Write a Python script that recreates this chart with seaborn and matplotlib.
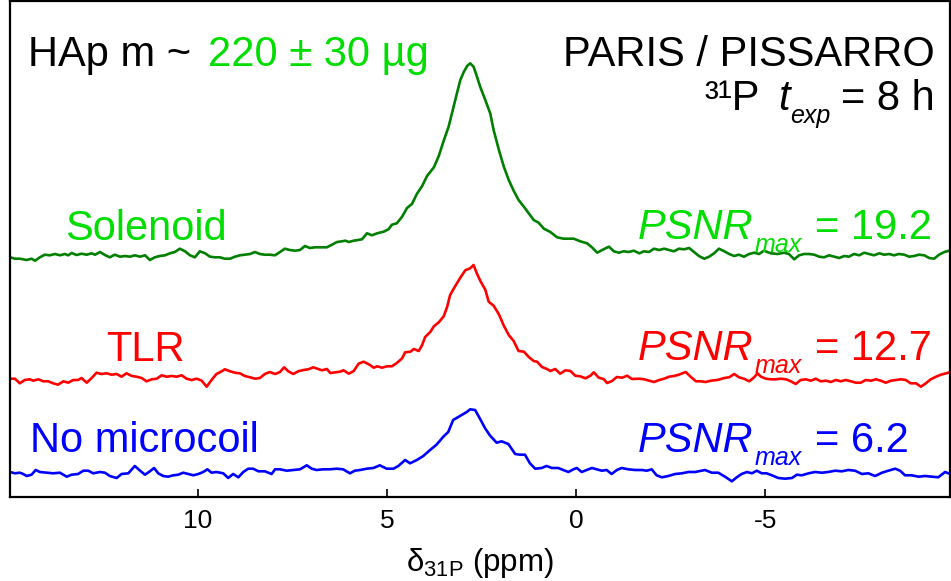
import numpy as np
import pandas as pd
import matplotlib
matplotlib.use("Agg")
import matplotlib.pyplot as plt
import seaborn as sns

# ---------------- data ----------------
shift_solenoid = [14.97, 14.84, 14.71, 14.53, 14.40, 14.31, 14.18, 14.05, 13.92, 13.78, 13.65, 13.52, 13.43, 13.34,
                  13.21, 13.08, 12.94, 12.81, 12.72, 12.59, 12.46, 12.33, 12.20, 12.06, 11.93, 11.80, 11.67, 11.53,
                  11.40, 11.27, 11.14, 11.01, 10.87, 10.74, 10.61, 10.48, 10.34, 10.21, 10.08, 9.95, 9.81, 9.68, 9.55,
                  9.42, 9.29, 9.15, 9.02, 8.89, 8.76, 8.62, 8.49, 8.36, 8.23, 8.10, 7.96, 7.83, 7.70, 7.57, 7.43, 7.30,
                  7.17, 7.04, 6.90, 6.72, 6.59, 6.46, 6.32, 6.19, 6.10, 6.01, 5.88, 5.66, 5.53, 5.40, 5.26, 5.09, 4.96,
                  4.87, 4.74, 4.60, 4.47, 4.34, 4.21, 4.07, 3.94, 3.76, 3.63, 3.50, 3.37, 3.24, 3.15, 3.06, 2.97, 2.88,
                  2.80, 2.71, 2.62, 2.53, 2.40, 2.27, 2.18, 2.04, 1.91, 1.78, 1.65, 1.52, 1.38, 1.25, 1.12, 0.99, 0.85,
                  0.68, 0.50, 0.33, 0.06, -0.11, -0.29, -0.42, -0.56, -0.69, -0.87, -1.00, -1.13, -1.26, -1.39, -1.53,
                  -1.67, -1.80, -1.93, -2.06, -2.20, -2.33, -2.46, -2.59, -2.72, -2.86, -2.99, -3.12, -3.25, -3.39,
                  -3.52, -3.65, -3.78, -3.92, -4.05, -4.18, -4.31, -4.44, -4.58, -4.71, -4.84, -4.97, -5.15, -5.33,
                  -5.50, -5.63, -5.77, -5.90, -6.03, -6.16, -6.30, -6.43, -6.56, -6.69, -6.83, -6.96, -7.09, -7.22,
                  -7.35, -7.49, -7.62, -7.75, -7.88, -8.02, -8.15, -8.28, -8.41, -8.54, -8.68, -8.81, -8.94, -9.07,
                  -9.21, -9.34, -9.47, -9.60, -9.74, -9.87]
signal_solenoid = [239.7, 238.3, 238.3, 237.0, 238.3, 236.3, 239.7, 242.3, 241.7, 243.0, 241.7, 243.0, 241.7, 244.0,
                   242.0, 243.3, 242.3, 243.7, 242.3, 245.0, 242.0, 239.7, 242.3, 240.3, 241.0, 240.3, 241.7, 240.3,
                   241.7, 237.0, 239.7, 241.0, 241.7, 243.7, 245.0, 248.3, 245.7, 241.7, 239.7, 245.7, 243.7, 240.3,
                   239.7, 239.7, 238.3, 238.3, 240.3, 241.7, 242.3, 243.0, 245.0, 243.0, 242.3, 242.3, 241.7, 245.0,
                   248.3, 247.0, 246.3, 247.0, 251.0, 249.0, 249.7, 249.7, 249.7, 252.3, 255.0, 255.7, 256.3, 255.0,
                   256.3, 257.7, 263.7, 261.7, 263.7, 265.3, 267.7, 272.3, 273.7, 280.3, 289.0, 293.0, 303.0, 311.0,
                   321.0, 329.7, 341.0, 356.3, 370.3, 390.3, 403.7, 417.0, 425.0, 431.0, 433.7, 430.3, 420.3, 409.7,
                   397.0, 383.7, 367.0, 347.0, 330.3, 317.0, 306.3, 297.0, 290.3, 283.7, 277.0, 274.3, 268.3, 265.0,
                   259.7, 258.3, 258.3, 255.7, 253.7, 249.7, 244.3, 247.0, 250.3, 245.7, 244.3, 245.7, 245.0, 246.3,
                   243.7, 245.7, 245.0, 248.3, 247.0, 248.3, 247.0, 245.7, 248.3, 247.7, 249.0, 245.0, 241.0, 238.3,
                   240.3, 243.7, 248.3, 245.7, 243.0, 241.0, 242.3, 240.3, 243.0, 244.3, 243.0, 246.3, 243.7, 243.0,
                   244.3, 243.0, 237.7, 241.7, 243.0, 243.0, 242.3, 240.3, 239.7, 241.7, 240.3, 239.0, 241.0, 240.3,
                   243.0, 241.7, 244.3, 243.0, 241.7, 243.7, 242.3, 243.0, 241.7, 243.0, 242.3, 240.3, 241.0, 242.3,
                   241.7, 239.0, 238.3, 242.3, 245.0, 246.3]

shift_tlr = [14.97, 14.84, 14.71, 14.58, 14.44, 14.36, 14.22, 14.09, 13.96, 13.83, 13.70, 13.56, 13.43, 13.30, 13.17,
             13.08, 12.94, 12.81, 12.68, 12.55, 12.42, 12.28, 12.15, 12.02, 11.89, 11.75, 11.62, 11.49, 11.36, 11.22,
             11.09, 10.96, 10.83, 10.70, 10.56, 10.43, 10.30, 10.17, 10.03, 9.90, 9.77, 9.64, 9.51, 9.37, 9.29, 9.15,
             9.02, 8.89, 8.76, 8.62, 8.49, 8.36, 8.23, 8.10, 7.96, 7.83, 7.72, 7.61, 7.48, 7.35, 7.21, 7.08, 6.95,
             6.72, 6.59, 6.50, 6.37, 6.24, 6.15, 6.01, 5.88, 5.75, 5.62, 5.48, 5.35, 5.26, 5.13, 5.00, 4.87, 4.74,
             4.60, 4.52, 4.38, 4.29, 4.16, 4.07, 3.99, 3.85, 3.76, 3.63, 3.50, 3.41, 3.33, 3.19, 3.06, 2.93, 2.80,
             2.71, 2.62, 2.53, 2.40, 2.31, 2.18, 2.04, 1.91, 1.78, 1.65, 1.52, 1.38, 1.25, 1.12, 1.03, 0.90, 0.77,
             0.68, 0.55, 0.42, 0.28, 0.15, 0.02, -0.11, -0.25, -0.38, -0.47, -0.60, -0.73, -0.82, -0.95, -1.08,
             -1.22, -1.35, -1.48, -1.67, -1.80, -1.93, -2.06, -2.20, -2.33, -2.46, -2.59, -2.72, -2.90, -3.03,
             -3.17, -3.30, -3.43, -3.56, -3.74, -3.92, -4.05, -4.18, -4.31, -4.44, -4.58, -4.71, -4.80, -4.89,
             -5.02, -5.15, -5.28, -5.42, -5.55, -5.68, -5.81, -5.94, -6.08, -6.21, -6.34, -6.47, -6.61, -6.74,
             -6.87, -7.00, -7.13, -7.27, -7.40, -7.53, -7.66, -7.80, -7.93, -8.06, -8.19, -8.33, -8.46, -8.59,
             -8.72, -8.85, -8.99, -9.12, -9.25, -9.38, -9.52, -9.65, -9.78, -9.91]
signal_tlr = [118.3, 118.3, 113.7, 117.0, 117.7, 116.3, 117.7, 115.7, 115.7, 113.7, 112.3, 115.7, 114.3, 117.0, 117.0,
              119.0, 114.3, 119.0, 124.3, 123.0, 123.7, 122.3, 123.0, 120.3, 123.7, 121.0, 120.3, 119.0, 115.7,
              117.7, 118.3, 121.7, 120.3, 121.0, 120.3, 121.7, 118.3, 117.0, 118.3, 116.3, 110.3, 117.0, 123.0,
              125.7, 127.7, 125.7, 124.3, 123.7, 121.0, 119.7, 118.3, 119.0, 123.0, 125.0, 123.0, 125.0, 129.7,
              125.7, 123.0, 125.7, 127.0, 127.7, 129.7, 126.7, 128.0, 124.0, 124.7, 125.3, 126.7, 123.3, 126.0,
              133.3, 135.3, 132.7, 129.3, 130.7, 129.3, 130.7, 130.7, 134.0, 138.7, 144.7, 145.3, 148.0, 146.0,
              152.0, 160.0, 165.3, 170.7, 174.7, 180.7, 190.0, 202.0, 211.3, 219.3, 226.7, 228.7, 232.0, 223.3,
              216.0, 207.3, 195.3, 191.3, 182.7, 171.3, 162.0, 156.0, 146.0, 145.3, 140.0, 136.0, 135.3, 130.0,
              128.0, 126.0, 128.0, 123.3, 126.7, 126.0, 121.3, 120.7, 118.7, 121.3, 124.7, 119.3, 118.0, 114.0,
              116.0, 120.0, 119.3, 121.3, 118.0, 118.3, 117.7, 116.3, 115.0, 117.0, 118.3, 120.3, 121.0, 122.3,
              125.0, 120.3, 115.7, 115.7, 115.0, 116.3, 117.0, 119.0, 119.7, 123.0, 119.7, 118.3, 115.7, 119.7,
              123.7, 120.3, 118.3, 117.7, 117.7, 118.3, 117.7, 115.7, 113.0, 117.0, 117.7, 116.3, 118.3, 115.7,
              116.3, 115.0, 117.0, 115.7, 117.0, 115.7, 114.3, 114.3, 117.0, 116.3, 117.7, 116.3, 114.3, 116.3,
              117.0, 117.7, 117.0, 113.7, 113.7, 110.3, 113.7, 117.7, 120.3, 122.3, 123.7, 125.0]

shift_none = [14.97, 14.84, 14.71, 14.62, 14.53, 14.40, 14.29, 14.18, 14.00, 13.83, 13.65, 13.47, 13.34, 13.17, 13.03,
              12.90, 12.77, 12.59, 12.46, 12.33, 12.15, 12.02, 11.84, 11.67, 11.53, 11.40, 11.27, 11.16, 11.05,
              10.92, 10.79, 10.65, 10.52, 10.39, 10.26, 10.12, 9.99, 9.86, 9.75, 9.64, 9.51, 9.33, 9.20, 9.07, 8.93,
              8.80, 8.67, 8.54, 8.40, 8.23, 8.05, 7.96, 7.83, 7.65, 7.48, 7.30, 7.12, 6.99, 6.86, 6.69, 6.51, 6.33,
              6.16, 5.98, 5.85, 5.71, 5.54, 5.36, 5.19, 5.01, 4.83, 4.70, 4.52, 4.39, 4.21, 4.04, 3.86, 3.69, 3.51,
              3.38, 3.25, 3.07, 2.89, 2.80, 2.67, 2.54, 2.41, 2.28, 2.10, 1.97, 1.79, 1.61, 1.48, 1.35, 1.22, 1.08,
              0.91, 0.78, 0.64, 0.47, 0.34, 0.20, 0.07, -0.02, -0.15, -0.28, -0.42, -0.55, -0.68, -0.81, -0.94,
              -1.08, -1.21, -1.38, -1.56, -1.74, -1.87, -2.00, -2.13, -2.27, -2.44, -2.62, -2.80, -2.97, -3.15,
              -3.41, -3.59, -3.76, -3.94, -4.12, -4.25, -4.38, -4.52, -4.65, -4.78, -4.91, -5.04, -5.18, -5.35,
              -5.53, -5.71, -5.84, -5.97, -6.15, -6.32, -6.50, -6.67, -6.85, -7.03, -7.20, -7.38, -7.56, -7.73,
              -7.91, -8.09, -8.26, -8.44, -8.57, -8.70, -8.88, -9.06, -9.23, -9.41, -9.58, -9.76, -9.89]
signal_none = [25.0, 23.7, 24.3, 23.0, 21.0, 22.3, 27.0, 25.0, 24.3, 23.7, 24.3, 20.3, 22.3, 23.0, 26.3, 26.3, 23.7,
               25.0, 24.3, 21.0, 19.0, 23.0, 23.7, 31.0, 26.3, 22.3, 25.7, 29.0, 23.7, 21.0, 20.3, 21.7, 22.3, 24.3,
               23.0, 21.7, 23.0, 25.0, 27.7, 24.3, 25.0, 23.7, 19.0, 23.0, 19.7, 25.0, 28.3, 28.3, 25.7, 25.7, 23.0,
               27.7, 27.7, 26.3, 27.0, 27.7, 31.7, 28.3, 27.0, 27.7, 27.7, 28.3, 27.7, 23.7, 26.3, 27.0, 28.3, 29.0,
               31.7, 28.3, 28.3, 31.0, 37.0, 33.7, 37.0, 41.0, 47.0, 52.3, 60.3, 65.0, 77.0, 81.0, 85.0, 87.7, 87.0,
               78.3, 69.0, 61.7, 54.3, 55.7, 53.0, 43.0, 42.3, 42.3, 33.7, 28.3, 29.0, 31.0, 29.0, 29.0, 27.0, 25.0,
               27.7, 29.0, 25.0, 27.0, 29.0, 27.7, 26.3, 27.0, 23.0, 27.0, 29.0, 27.7, 27.0, 27.0, 26.3, 27.7, 21.7,
               19.7, 21.0, 23.0, 23.7, 25.0, 25.0, 27.0, 24.3, 24.3, 20.3, 15.7, 19.7, 23.0, 25.0, 23.7, 26.3, 23.7,
               23.7, 21.7, 19.0, 18.3, 19.0, 22.3, 21.7, 23.7, 25.0, 24.3, 25.0, 26.3, 25.7, 27.0, 26.3, 23.0, 23.7,
               21.0, 24.3, 26.3, 28.3, 26.3, 21.7, 21.7, 20.3, 21.0, 20.3, 19.7, 25.0, 23.0]

coil_names = ["Solenoid", "TLR", "No microcoil"]
psnr_values = ["19.2", "12.7", "6.2"]
x_ticks = [10, 5, 0, -5]
line_colors = {"Solenoid": "#007f00", "TLR": "#ff0000", "No microcoil": "#0000ff"}
text_colors = {"Solenoid": "#00dd00", "TLR": "#ff0000", "No microcoil": "#0000ff"}

frames = []
for name, xs, ys in zip(coil_names, [shift_solenoid, shift_tlr, shift_none],
                        [signal_solenoid, signal_tlr, signal_none]):
    frames.append(pd.DataFrame({"shift": xs, "signal": ys, "coil": name}))
df = pd.concat(frames, ignore_index=True)

# ---------------- style ----------------
sns.set_theme(style="white")
plt.rcParams["font.family"] = ["Liberation Sans", "DejaVu Sans"]
plt.rcParams["mathtext.fontset"] = "custom"
plt.rcParams["mathtext.rm"] = "Liberation Sans"
plt.rcParams["mathtext.it"] = "Liberation Sans:italic"
plt.rcParams["mathtext.bf"] = "Liberation Sans:bold"
plt.rcParams["axes.unicode_minus"] = False

W, H = 951, 581
fig = plt.figure(figsize=(W / 100, H / 100), dpi=100)
ax = fig.add_axes([10 / W, (H - 497) / H, (950 - 10) / W, (497 - 1) / H])

sns.lineplot(data=df, x="shift", y="signal", hue="coil", palette=line_colors,
             estimator=None, sort=False, linewidth=1.9, legend=False, ax=ax)

ax.set_xlim(14.97, -9.89)
ax.set_ylim(0, 496)
ax.set_xticks(x_ticks)
ax.set_xticklabels([str(t) for t in x_ticks])
ax.set_yticks([])
ax.set_ylabel("")
ax.set_xlabel(r"δ$_{\mathrm{31P}}$ (ppm)", fontsize=22.5, labelpad=9, color="black")
ax.tick_params(axis="x", direction="in", length=6, width=1.2, labelsize=19, pad=9,
               colors="black", bottom=True)
for sp in ax.spines.values():
    sp.set_visible(True)
    sp.set_color("black")
    sp.set_linewidth(1.6)


def fx(px):
    return px / W


def fy(py):
    return 1 - py / H


FS = 30
SUB = 18
# top left
fig.text(fx(28), fy(66), "HAp m ~", fontsize=FS, color="black", va="baseline", ha="left")
fig.text(fx(208), fy(66), "220 ± 30 µg", fontsize=FS, color=text_colors["Solenoid"],
         va="baseline", ha="left")
# top right
fig.text(fx(935), fy(66), "PARIS / PISSARRO", fontsize=FS, color="black", va="baseline", ha="right")
fig.text(fx(705), fy(110), "³¹P", fontsize=FS, color="black", va="baseline", ha="left")
fig.text(fx(778), fy(110), "t", fontsize=FS, style="italic", color="black", va="baseline", ha="left")
fig.text(fx(790), fy(123), "exp", fontsize=SUB, style="italic", color="black", va="baseline", ha="left")
fig.text(fx(935), fy(110), "= 8 h", fontsize=FS, color="black", va="baseline", ha="right")

# labels per trace
name_pos = {"Solenoid": (65, 240, "left"), "TLR": (145, 361, "center"), "No microcoil": (30, 452, "left")}
psnr_y = {"Solenoid": 239, "TLR": 360, "No microcoil": 452}
for name, val in zip(coil_names, psnr_values):
    x0, y0, ha = name_pos[name]
    c = text_colors[name]
    fig.text(fx(x0), fy(y0), name, fontsize=FS, color=c, va="baseline", ha=ha)
    yb = psnr_y[name]
    fig.text(fx(638), fy(yb), "PSNR", fontsize=FS, style="italic", color=c, va="baseline", ha="left")
    fig.text(fx(755), fy(yb + 13), "max", fontsize=SUB, style="italic", color=c, va="baseline", ha="left")
    fig.text(fx(815), fy(yb), "= " + val, fontsize=FS, color=c, va="baseline", ha="left")

fig.savefig("out.png", dpi=100)
